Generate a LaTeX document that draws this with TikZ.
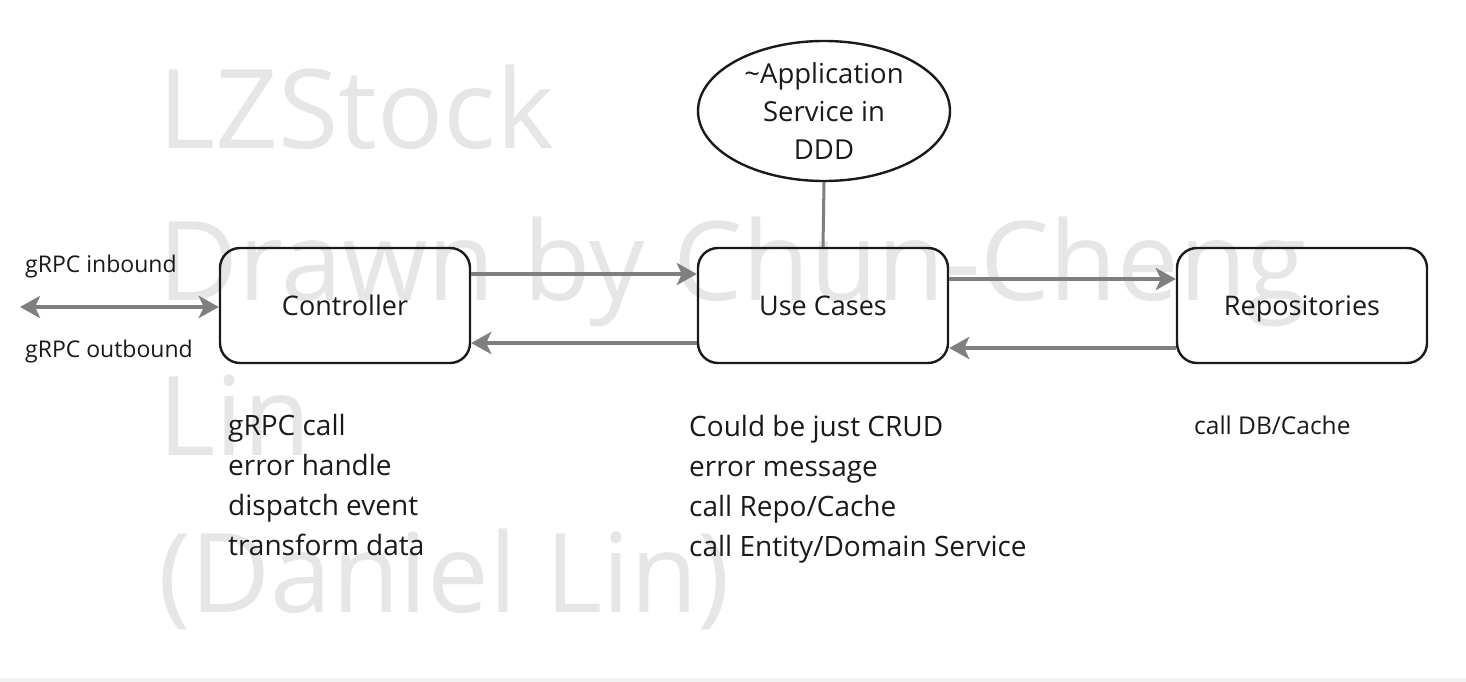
\documentclass[tikz,border=0pt]{standalone}
\usepackage{fontspec}
\setmainfont{Open Sans}
\usetikzlibrary{arrows.meta,shapes.geometric}
\definecolor{wm}{HTML}{E6E6E6}
\definecolor{arrgray}{HTML}{7F7F7F}
\definecolor{ink}{HTML}{1A1A1A}
\tikzset{
  box/.style={draw=ink, line width=2.4pt, rounded corners=20pt, minimum width=250pt, minimum height=115pt, inner sep=0pt, text height=26pt, text depth=6pt, font=\fontsize{27}{32}\selectfont, text=ink},
  bubble/.style={ellipse, draw=ink, line width=2.4pt, minimum width=252pt, minimum height=140pt, inner sep=0pt, align=center, font=\fontsize{27.5}{38}\selectfont, text=ink},
  arr/.style={draw=arrgray, line width=4pt, -{Stealth[length=20pt,width=22pt,inset=5pt]}},
  darr/.style={draw=arrgray, line width=4pt, {Stealth[length=20pt,width=22pt,inset=5pt]}-{Stealth[length=20pt,width=22pt,inset=5pt]}},
  link/.style={draw=arrgray, line width=3pt},
  note/.style={anchor=north west, align=left, inner sep=0pt, text=ink, font=\fontsize{28}{40}\selectfont},
  small/.style={anchor=west, inner sep=0pt, text=ink, font=\fontsize{23}{27}\selectfont},
  water/.style={anchor=base west, inner sep=0pt, text=wm, font=\fontsize{110}{134}\selectfont}
}
\begin{document}
\begin{tikzpicture}[x=1pt,y=-1pt]
\fill[white] (0,0) rectangle (1466,682);
\useasboundingbox (0,0) rectangle (1466,682);
\fill[black!5] (0,678) rectangle (1466,682);
% watermark
\node[water] (w1) at (158,148) {LZStock};
\node[water] (w2) at (158,300) {Drawn by Chun-Cheng};
\node[water] (w3) at (158,455) {Lin};
\node[water] (w4) at (158,612) {(Daniel Lin)};
% nodes
\node[box] (ctrl) at (345,305.5) {Controller};
\node[box] (uc) at (823,305.5) {Use Cases};
\node[box] (repo) at (1302,305.5) {Repositories};
\node[bubble] (app) at (824,111) {\textasciitilde Application\\Service in\\DDD};
\coordinate (ext) at (20,307);
% connectors
\draw[link] (app.south) -- (uc.north);
\draw[darr] (ext) -- ([yshift=-1.5pt]ctrl.west);
\draw[arr] ([yshift=31.5pt]ctrl.east) -- ([yshift=31.5pt]uc.west);
\draw[arr] ([yshift=-37.5pt]uc.west) -- ([yshift=-37.5pt]ctrl.east);
\draw[arr] ([yshift=26.5pt]uc.east) -- ([yshift=26.5pt]repo.west);
\draw[arr] ([yshift=-42.5pt]repo.west) -- ([yshift=-42.5pt]uc.east);
% labels
\node[small] (in) at (25,267) {gRPC inbound};
\node[small] (out) at (25,352) {gRPC outbound};
\node[note] (cn) at (228,414) {gRPC call\\error handle\\dispatch event\\transform data};
\node[note] (un) at (689,415) {Could be just CRUD\\error message\\call Repo/Cache\\call Entity/Domain Service};
\node[small, font=\fontsize{24.5}{28}\selectfont] (rn) at (1194,425) {call DB/Cache};
\end{tikzpicture}
\end{document}
